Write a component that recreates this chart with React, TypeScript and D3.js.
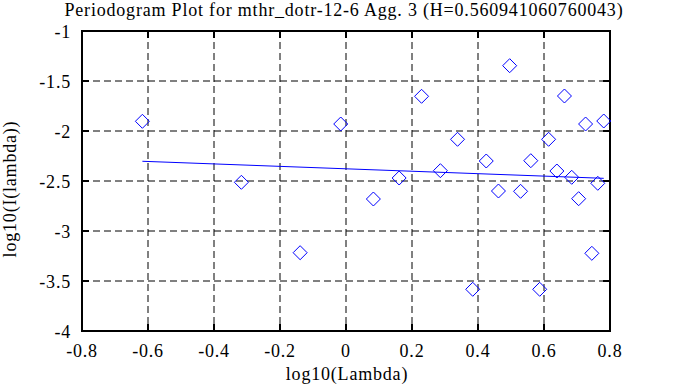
import { useEffect, useRef } from 'react';
import * as d3 from 'd3';

// log10(lambda) values
const logLambda = [
  -0.617, -0.317, -0.139, -0.016, 0.083, 0.161, 0.229, 0.286, 0.338, 0.384,
  0.425, 0.462, 0.496, 0.529, 0.56, 0.587, 0.614, 0.639, 0.662, 0.684,
  0.705, 0.726, 0.745, 0.763, 0.781,
];

// log10(I(lambda)) values
const logI = [
  -1.903, -2.513, -3.217, -1.93, -2.68, -2.47, -1.653, -2.397, -2.083, -3.583,
  -2.3, -2.6, -1.347, -2.603, -2.297, -3.583, -2.083, -2.4, -1.65, -2.463,
  -2.677, -1.93, -3.223, -2.523, -1.9,
];

const xTicks = [-0.8, -0.6, -0.4, -0.2, 0, 0.2, 0.4, 0.6, 0.8];
const yTicks = [-1, -1.5, -2, -2.5, -3, -3.5, -4];

const hurst = 0.560941060760043;
const fitSlope = 1 - 2 * hurst;
const fitIntercept = -2.378;

const title = `Periodogram Plot for mthr_dotr-12-6 Agg. 3 (H=${hurst})`;

export default function App() {
  const ref = useRef<SVGSVGElement>(null);

  useEffect(() => {
    if (!ref.current) return;
    const svg = d3.select(ref.current);
    svg.selectAll('*').remove();

    const W = 673, H = 387;
    const left = 82, right = 610, top = 31, bottom = 331;
    const font = '"Liberation Serif", "Times New Roman", serif';

    const x = d3.scaleLinear().domain([-0.8, 0.8]).range([left, right]);
    const y = d3.scaleLinear().domain([-4, -1]).range([bottom, top]);

    svg.attr('width', W).attr('height', H);
    svg.append('rect').attr('width', W).attr('height', H).attr('fill', '#fff');

    // grid
    const grid = svg.append('g')
      .attr('stroke', '#000')
      .attr('stroke-width', 1)
      .attr('stroke-dasharray', '7,4');
    grid.selectAll('.vg')
      .data(xTicks.slice(1, -1))
      .enter()
      .append('line')
      .attr('x1', d => x(d)).attr('x2', d => x(d))
      .attr('y1', top).attr('y2', bottom);
    grid.selectAll('.hg')
      .data(yTicks.slice(1, -1))
      .enter()
      .append('line')
      .attr('y1', d => y(d)).attr('y2', d => y(d))
      .attr('x1', left).attr('x2', right);

    // inward ticks on all sides
    const tl = 7;
    const ticks = svg.append('g').attr('stroke', '#000').attr('stroke-width', 2);
    xTicks.forEach(t => {
      ticks.append('line').attr('x1', x(t)).attr('x2', x(t)).attr('y1', bottom).attr('y2', bottom - tl);
      ticks.append('line').attr('x1', x(t)).attr('x2', x(t)).attr('y1', top).attr('y2', top + tl);
    });
    yTicks.forEach(t => {
      ticks.append('line').attr('y1', y(t)).attr('y2', y(t)).attr('x1', left).attr('x2', left + tl);
      ticks.append('line').attr('y1', y(t)).attr('y2', y(t)).attr('x1', right).attr('x2', right - tl);
    });

    // frame
    svg.append('rect')
      .attr('x', left).attr('y', top)
      .attr('width', right - left).attr('height', bottom - top)
      .attr('fill', 'none').attr('stroke', '#000').attr('stroke-width', 2);

    // fitted line
    const xs = d3.extent(logLambda) as [number, number];
    svg.append('line')
      .attr('x1', x(xs[0])).attr('y1', y(fitIntercept + fitSlope * xs[0]))
      .attr('x2', x(xs[1])).attr('y2', y(fitIntercept + fitSlope * xs[1]))
      .attr('stroke', '#0000ff').attr('stroke-width', 1);

    // diamonds
    const r = 7;
    svg.selectAll('.pt')
      .data(logLambda.map((v, i) => ({ x: v, y: logI[i] })))
      .enter()
      .append('path')
      .attr('transform', d => `translate(${x(d.x)},${y(d.y)})`)
      .attr('d', `M0,${-r}L${r},0L0,${r}L${-r},0Z`)
      .attr('fill', 'none')
      .attr('stroke', '#0000ff')
      .attr('stroke-width', 1);

    // tick labels
    const txt = svg.append('g')
      .attr('font-family', font)
      .attr('font-size', 18)
      .attr('letter-spacing', 0.8)
      .attr('fill', '#000');
    txt.selectAll('.xl')
      .data(xTicks)
      .enter()
      .append('text')
      .attr('x', d => x(d))
      .attr('y', 357)
      .attr('text-anchor', 'middle')
      .text(d => String(d));
    txt.selectAll('.yl')
      .data(yTicks)
      .enter()
      .append('text')
      .attr('x', 71)
      .attr('y', d => y(d) + 7)
      .attr('text-anchor', 'end')
      .text(d => String(d));

    // titles
    txt.append('text')
      .attr('x', 344).attr('y', 16)
      .attr('text-anchor', 'middle')
      .text(title);
    txt.append('text')
      .attr('x', 347).attr('y', 380)
      .attr('text-anchor', 'middle')
      .text('log10(Lambda)');
    txt.append('text')
      .attr('transform', `translate(16,189) rotate(-90)`)
      .attr('text-anchor', 'middle')
      .text('log10(I(lambda))');
  }, []);

  return <svg ref={ref} style={{ position: 'absolute', left: 0, top: 0 }} />;
}
